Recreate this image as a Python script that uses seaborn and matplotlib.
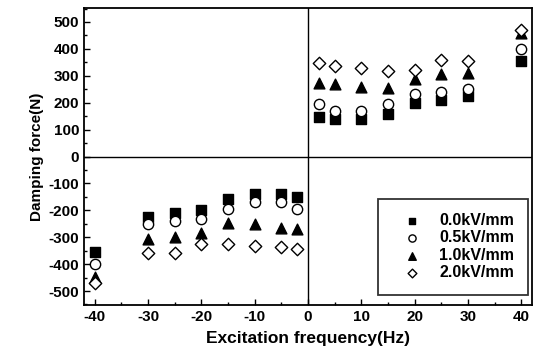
import numpy as np
import pandas as pd
import matplotlib
matplotlib.use("Agg")
import matplotlib.pyplot as plt
import seaborn as sns
from matplotlib.ticker import MultipleLocator

freq = [-40, -30, -25, -20, -15, -10, -5, -2, 2, 5, 10, 15, 20, 25, 30, 40]
f00 = [-354, -225, -211, -200, -157, -138, -138, -149, 148, 140, 140, 159, 200, 211, 226, 356]
f05 = [-401, -252, -240, -231, -196, -169, -169, -194, 196, 170, 170, 196, 233, 241, 251, 400]
f10 = [-449, -307, -301, -285, -249, -251, -264, -268, 274, 270, 259, 255, 288, 307, 311, 459]
f20 = [-470, -357, -360, -326, -326, -332, -335, -344, 348, 337, 330, 319, 322, 359, 356, 470]
labels = ["0.0kV/mm", "0.5kV/mm", "1.0kV/mm", "2.0kV/mm"]

df = pd.DataFrame({
    "freq": freq * 4,
    "force": f00 + f05 + f10 + f20,
    "field": sum([[l] * len(freq) for l in labels], []),
})

sns.set_style("ticks")
plt.rcParams["font.family"] = ["Liberation Sans", "DejaVu Sans"]
plt.rcParams["font.weight"] = "bold"
plt.rcParams["text.color"] = "black"
plt.rcParams["axes.labelcolor"] = "black"
plt.rcParams["xtick.color"] = "black"
plt.rcParams["ytick.color"] = "black"
plt.rcParams["axes.unicode_minus"] = False

fig = plt.figure(figsize=(5.37, 3.54), dpi=100)
ax = fig.add_axes([84/537, 1 - 305/354, (532-84)/537, (305-8)/354])

markers = {labels[0]: "s", labels[1]: "o", labels[2]: "^", labels[3]: "D"}
styles = {
    labels[0]: dict(facecolor="black", s=45),
    labels[1]: dict(facecolor="white", s=55),
    labels[2]: dict(facecolor="black", s=60),
    labels[3]: dict(facecolor="white", s=40),
}
for lab in labels:
    sub = df[df["field"] == lab]
    sns.scatterplot(data=sub, x="freq", y="force", marker=markers[lab],
                    color=styles[lab]["facecolor"], edgecolor="black",
                    linewidth=1.0, s=styles[lab]["s"], ax=ax, label=lab,
                    zorder=3)

ax.axhline(0, color="black", lw=1.0, zorder=1)
ax.axvline(0, color="black", lw=1.0, zorder=1)

ax.set_xlim(-42, 42)
ax.set_ylim(-552, 552)
ax.xaxis.set_major_locator(MultipleLocator(10))
ax.xaxis.set_minor_locator(MultipleLocator(5))
ax.yaxis.set_major_locator(MultipleLocator(100))
ax.yaxis.set_minor_locator(MultipleLocator(50))
ax.tick_params(which="both", direction="in", top=False, right=False,
               labelsize=11, width=1.0, colors="black")
ax.tick_params(which="major", length=4)
ax.tick_params(which="minor", length=2)
for sp in ax.spines.values():
    sp.set_linewidth(1.3)
    sp.set_color("black")
for t in ax.get_xticklabels() + ax.get_yticklabels():
    t.set_fontweight("bold")

ax.set_xlabel("Excitation frequency(Hz)", fontsize=12.5, fontweight="bold", labelpad=5)
ax.set_ylabel("Damping force(N)", fontsize=11, fontweight="bold", labelpad=3)

leg = ax.legend(loc="lower right", bbox_to_anchor=(0.992, 0.035), borderaxespad=0,
                frameon=True, fancybox=False, edgecolor="black", fontsize=11.5,
                markerscale=0.7, handlelength=2.4, handletextpad=0.5,
                borderpad=0.9, labelspacing=0.15)
leg.get_frame().set_linewidth(1.3)
for t in leg.get_texts():
    t.set_fontweight("bold")

fig.savefig("out.png", dpi=100)
